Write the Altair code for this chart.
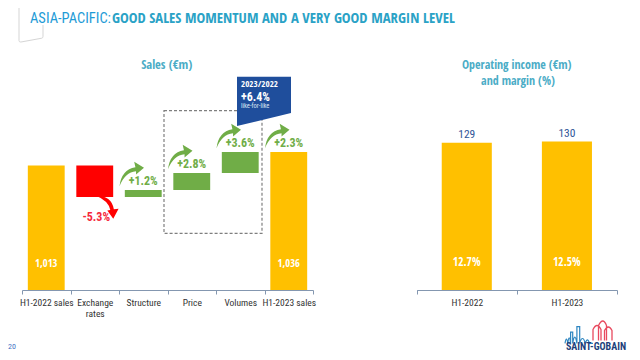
import altair as alt
import pandas as pd

# ---------------- data ----------------
categories = ["H1-2022 sales", "Exchange rates", "Structure", "Price", "Volumes", "H1-2023 sales"]
sales_start = 1013
sales_end = 1036
changes = [-54, 12, 29, 36]
change_labels = ["-5.3%", "+1.2%", "+2.8%", "+3.6%"]
total_growth_label = "+2.3%"
start_label = "1,013"
end_label = "1,036"

oi_periods = ["H1-2022", "H1-2023"]
oi_values = [129, 130]
oi_margins = ["12.7%", "12.5%"]

lfl_period = "2023/2022"
lfl_value = "+6.4%"

# ---------------- styling ----------------
FONT = "Roboto Condensed"
BFONT = "Open Sans Condensed"
YELLOW = "#ffc000"
RED = "#ff0000"
GREEN = "#70ad47"
NAVY = "#1f4e9c"
TEAL = "#4bacc6"
AXIS = "#8497b0"

W, H = 624, 344
BASE_Y = 282              # axis line position inside the chart
Y_MIN = 800               # waterfall axis does not start at zero
Y_MAX = 1282

# ---------------- waterfall table ----------------
rows = [{"cat": categories[0], "lo": Y_MIN, "hi": sales_start, "color": YELLOW,
         "val": start_label, "pct": "", "kind": "total"}]
level = sales_start
for cat, ch, lab in zip(categories[1:5], changes, change_labels):
    new = level + ch
    rows.append({"cat": cat, "lo": min(level, new), "hi": max(level, new),
                 "color": RED if ch < 0 else GREEN, "val": "", "pct": lab,
                 "kind": "neg" if ch < 0 else "pos"})
    level = new
rows.append({"cat": categories[5], "lo": Y_MIN, "hi": sales_end, "color": YELLOW,
             "val": end_label, "pct": total_growth_label, "kind": "total"})
wf = pd.DataFrame(rows)
wf_up = wf[(wf["kind"] == "pos") | (wf["cat"] == categories[5])]
wf_neg = wf[wf["kind"] == "neg"]
wf_tot = wf[wf["kind"] == "total"]

xs_left = alt.Scale(domain=categories, range=[14, 305], paddingInner=0, paddingOuter=0)
ys_left = alt.Scale(domain=[Y_MIN, Y_MAX], range=[BASE_Y, 0])

axis_common = dict(orient="bottom", offset=BASE_Y - H, title=None, labelAngle=0,
                   domainColor=AXIS, tickColor=AXIS, tickSize=4, tickBand="extent",
                   labelFont=FONT, labelFontSize=9.5, labelColor="#333333",
                   labelPadding=3, grid=False)

X_L = alt.X("cat:N", scale=xs_left, sort=categories,
            axis=alt.Axis(**axis_common,
                          labelExpr="datum.label == 'Exchange rates' ? ['Exchange', 'rates'] : datum.label"))
Y_L = alt.Y("hi:Q", scale=ys_left, axis=None)

bars = alt.Chart(wf).mark_bar(width=alt.RelativeBandSize(0.76)).encode(
    x=X_L, y=Y_L, y2="lo:Q", color=alt.Color("color:N", scale=None))

val_text = alt.Chart(wf_tot).mark_text(font=BFONT, fontWeight="bold", fontSize=10.5,
                                        color="white").encode(
    x=X_L, y=alt.value(256), text="val:N")

up_text = alt.Chart(wf_up).mark_text(font=FONT, fontWeight="bold", fontSize=12,
                                      color=GREEN, baseline="bottom", dy=-2).encode(
    x=X_L, y=Y_L, text="pct:N")

neg_text = alt.Chart(wf_neg).mark_text(font=FONT, fontWeight="bold", fontSize=12,
                                        color="#f5283c", baseline="top", dy=15, dx=1.5).encode(
    x=X_L, y=alt.Y("lo:Q", scale=ys_left, axis=None), text="pct:N")

UP_ARROW = ("M -1 1 Q -0.85 -0.35 0.3 -0.55 L 0.2 -1 L 1 -0.5 L 0.35 0.05 "
            "L 0.35 -0.22 Q -0.55 -0.15 -1 1 Z")
DOWN_ARROW = ("M -1 -1 Q 0.45 -0.95 0.6 0.2 L 1 0.15 L 0.55 1 L 0.05 0.3 "
              "L 0.3 0.25 Q 0.15 -0.55 -1 -1 Z")

up_arrows = alt.Chart(wf_up).mark_point(shape=UP_ARROW, size=600, filled=True, opacity=1,
                                         color=GREEN, strokeWidth=0,
                                         xOffset=-11.5, yOffset=-16).encode(x=X_L, y=Y_L)
down_arrows = alt.Chart(wf_neg).mark_point(shape=DOWN_ARROW, size=560, filled=True, opacity=1,
                                            color=RED, strokeWidth=0,
                                            xOffset=12, yOffset=10).encode(
    x=X_L, y=alt.Y("lo:Q", scale=ys_left, axis=None))

left = alt.layer(bars, val_text, up_arrows, down_arrows, up_text, neg_text)

# ---------------- operating income ----------------
oi = pd.DataFrame({"period": oi_periods, "value": oi_values, "margin": oi_margins})
xs_right = alt.Scale(domain=oi_periods, range=[408.7, 609], paddingInner=0, paddingOuter=0)
ys_right = alt.Scale(domain=[0, 247], range=[BASE_Y, 0])
X_R = alt.X("period:N", scale=xs_right, axis=alt.Axis(**axis_common))
Y_R = alt.Y("value:Q", scale=ys_right, axis=None)

oi_bars = alt.Chart(oi).mark_bar(width=alt.RelativeBandSize(0.5), color=YELLOW).encode(x=X_R, y=Y_R)
oi_vals = alt.Chart(oi).mark_text(font=FONT, fontSize=11.5, color="#2f5597",
                                  baseline="bottom", dy=-3).encode(x=X_R, y=Y_R, text="value:Q")
oi_marg = alt.Chart(oi).mark_text(font=BFONT, fontWeight="bold", fontSize=11.5,
                                  color="white").encode(x=X_R, y=alt.value(255), text="margin:N")
right = alt.layer(oi_bars, oi_vals, oi_marg)

# ---------------- annotations ----------------
one = pd.DataFrame({"a": [0]})


def txt(text, x, y, **kw):
    kw.setdefault("font", FONT)
    return alt.Chart(one).mark_text(text=text, **kw).encode(x=alt.value(x), y=alt.value(y))


dash_box = alt.Chart(one).mark_rect(fillOpacity=0, stroke="#7f7f7f", strokeDash=[3, 2],
                                    strokeWidth=1.2).encode(
    x=alt.value(156), x2=alt.value(254), y=alt.value(102.7), y2=alt.value(225.3))

BOX = "M -1 -1 L 1 -1 L 1 0.344 L -1 0.826 Z"
blue_box = alt.Chart(one).mark_point(shape=BOX, size=2916, filled=True, opacity=1,
                                     color=NAVY, strokeWidth=0).encode(
    x=alt.value(256), y=alt.value(95.7))

TAB = "M -1 -1.42 L -1 1.3 Q -1 1.42 -0.85 1.42 L 0.9 1.1 Q 1 1.08 1 0.95 L 1 0"
page_tab = alt.Chart(one).mark_point(shape=TAB, size=576, filled=False, opacity=1,
                                     color="#d5d5d5", strokeWidth=1).encode(
    x=alt.value(23), y=alt.value(17))

SKY_BLUE = ("M -1 0.6 Q -0.9 0 -0.8 0.6 Q -0.7 -0.2 -0.6 0.6 L -0.6 -0.2 L -0.45 -0.2 "
            "L -0.45 0.6 Q -0.3 -0.3 -0.15 0.6 L -0.15 -0.6 L 0.05 -0.6 L 0.05 0.6 "
            "Q 0.25 -0.1 0.45 0.6 Q 0.6 0.1 0.75 0.6 L 1 0.6")
SKY_RED = ("M -1 1 L -1 -0.1 Q -0.6 -0.9 -0.2 -0.1 L -0.2 1 M -0.45 1 L -0.45 -0.5 "
           "Q 0 -1.4 0.35 -0.5 L 0.35 1 M 0.15 1 L 0.15 0 Q 0.55 -0.7 0.9 0 L 0.9 1")
logo_blue = alt.Chart(one).mark_point(shape=SKY_BLUE, size=784, filled=False, opacity=1,
                                      color="#2e86c1", strokeWidth=1.2).encode(
    x=alt.value(571), y=alt.value(327))
logo_red = alt.Chart(one).mark_point(shape=SKY_RED, size=400, filled=False, opacity=1,
                                     color="#e84a5f", strokeWidth=1.3).encode(
    x=alt.value(595), y=alt.value(322.5))

annot_back = alt.layer(
    page_tab,
    txt("ASIA-PACIFIC:", 22, 14.5, fontSize=14.5, color="#1e9bd6", align="left", baseline="alphabetic"),
    txt("GOOD SALES MOMENTUM AND A VERY GOOD MARGIN LEVEL", 104, 14.5, fontSize=14.7,
        font=BFONT, fontWeight="bold", color="#2aa2c6", align="left", baseline="alphabetic"),
    txt("Sales (€m)", 158.7, 57, fontSize=12.5, font=BFONT, fontWeight="bold", color=TEAL),
    txt("Operating income (€m)", 508.7, 57, fontSize=12, font=BFONT, fontWeight="bold", color=TEAL),
    txt("and margin (%)", 510, 72.5, fontSize=12, font=BFONT, fontWeight="bold", color=TEAL),
    dash_box,
)

annot_front = alt.layer(
    blue_box,
    txt(lfl_period, 233, 76, fontSize=9, font=BFONT, fontWeight="bold", color="white", align="left"),
    txt(lfl_value, 233, 88.5, fontSize=12, fontWeight="bold", color="white", align="left"),
    txt("like-for-like", 233, 98, fontSize=6.5, color="#dde6f5", align="left"),
    txt("20", 0, 339, fontSize=8, color="#4472c4", align="left"),
    logo_blue, logo_red,
    txt("SAINT-GOBAIN", 588, 338.5, fontSize=10, fontWeight="bold", color="#1d3f7a"),
)

chart = alt.layer(annot_back, left, right, annot_front).resolve_scale(
    x="independent", y="independent"
).properties(
    width=W, height=H, autosize=alt.AutoSizeParams(type="none"), padding=0, background="white"
).configure_view(stroke=None)

chart.save("out.html", embed_options={"renderer": "svg", "actions": False})
